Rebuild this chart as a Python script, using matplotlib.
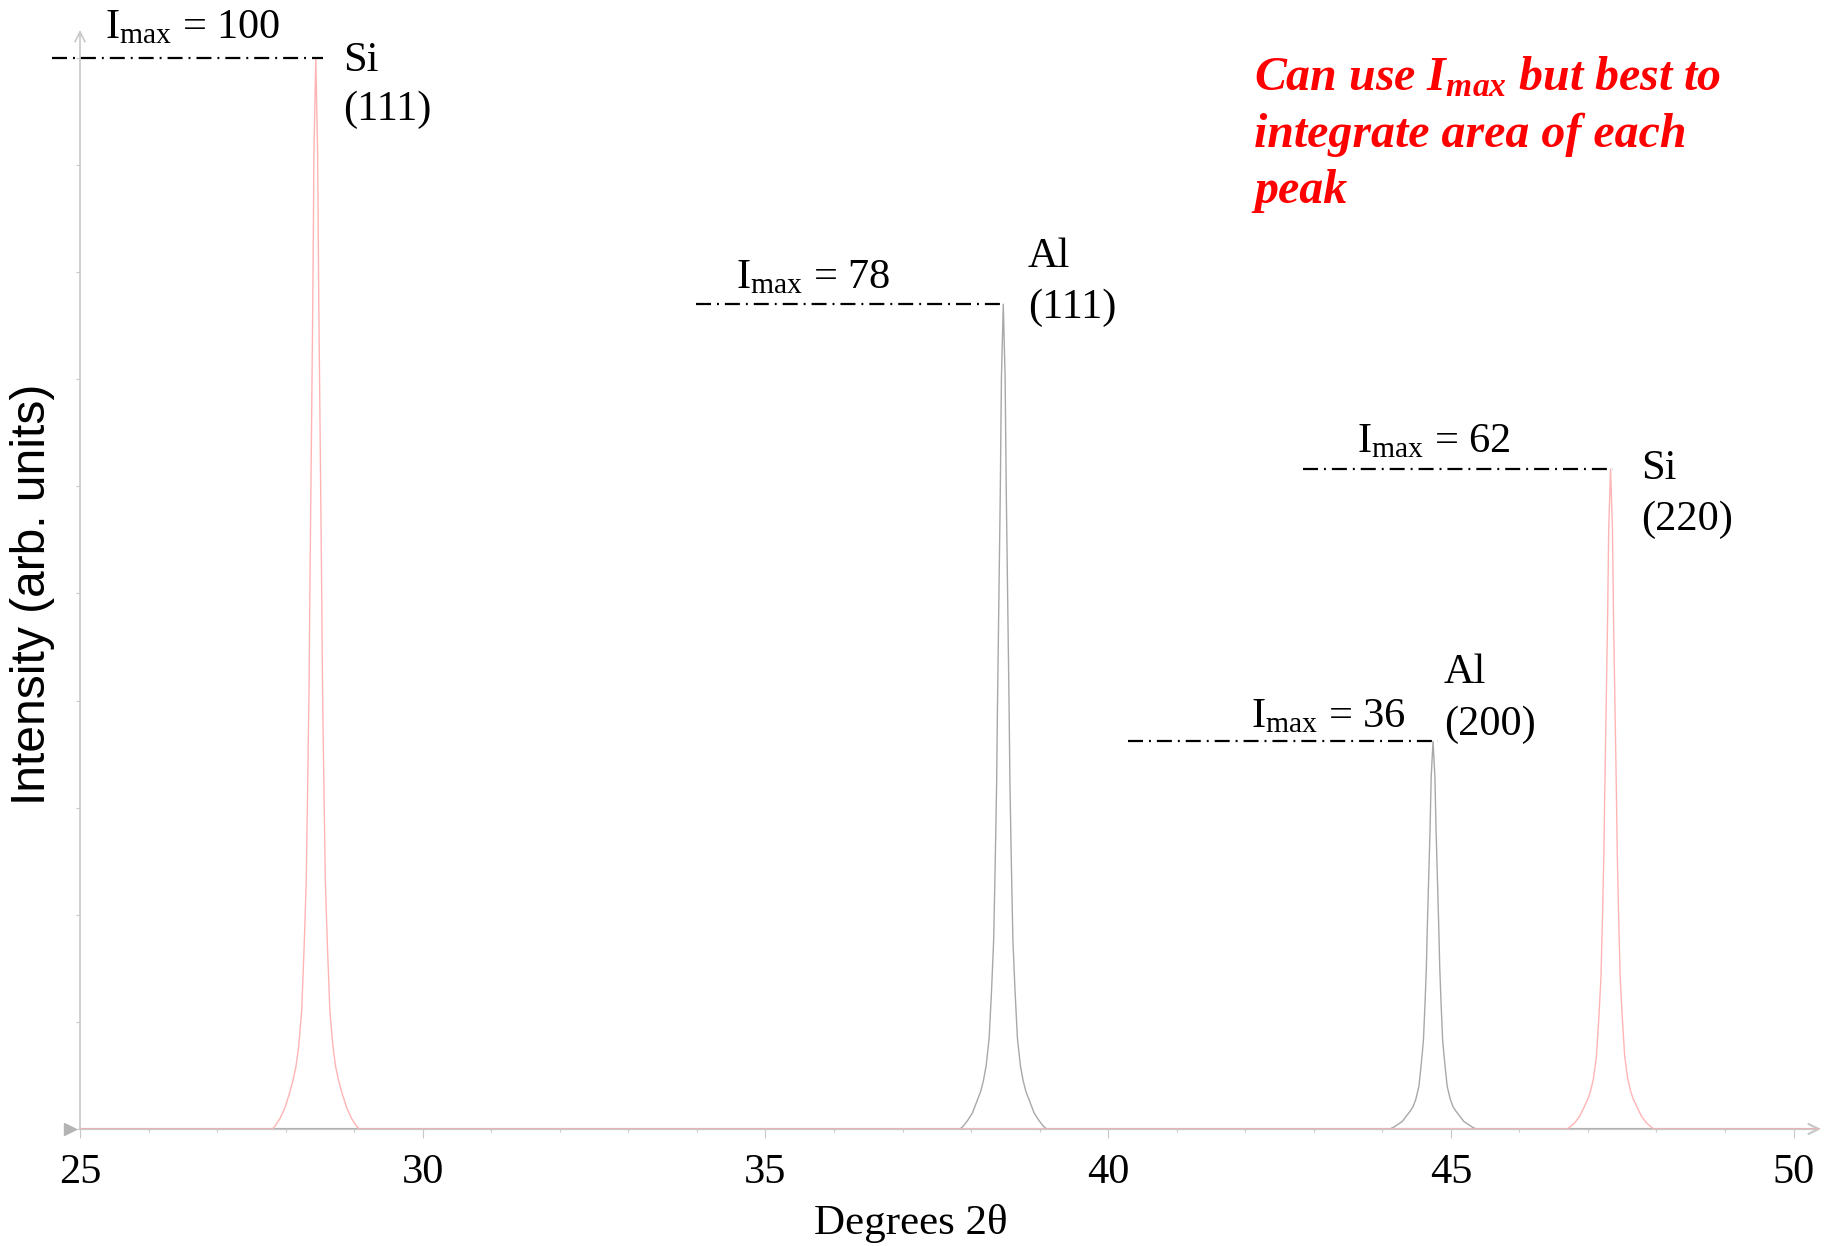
import matplotlib
matplotlib.use("Agg")
import matplotlib.pyplot as plt
import numpy as np

plt.rcParams.update({
    "font.family": "Liberation Serif",
    "mathtext.fontset": "custom",
    "mathtext.rm": "Liberation Serif",
    "mathtext.it": "Liberation Serif:italic",
    "mathtext.bf": "Liberation Serif:bold:italic",
    "lines.scale_dashes": False,
})

# --- data (degrees 2theta, intensity) ---
si111_x = [27.81, 27.86, 27.92, 27.99, 28.05, 28.11, 28.15, 28.19, 28.234, 28.27,
           28.30, 28.324, 28.343, 28.355, 28.396, 28.413, 28.44,
           28.467, 28.484, 28.525, 28.537, 28.556, 28.58, 28.61, 28.646, 28.69,
           28.73, 28.77, 28.83, 28.89, 28.96, 29.02, 29.07]
si111_y = [0, 0.4, 1, 2, 3.2, 4.6, 5.8, 7.7, 11, 17, 23, 33, 42, 51, 77, 91, 100,
           91, 77, 51, 42, 33, 23, 17, 11, 7.7, 5.8, 4.6, 3.2, 2, 1, 0.4, 0]

si220_x = [46.70, 46.75, 46.81, 46.88, 46.94, 47.00, 47.04, 47.08, 47.124, 47.16,
           47.19, 47.214, 47.233, 47.245, 47.286, 47.303, 47.33,
           47.357, 47.374, 47.415, 47.427, 47.446, 47.47, 47.50, 47.536, 47.58,
           47.62, 47.66, 47.72, 47.78, 47.85, 47.91, 47.96]
si220_y = [0, 0.25, 0.6, 1.2, 2.0, 2.8, 3.6, 4.7, 6.8, 10.5, 14.2, 20.3, 25.9, 31.4,
           47.4, 56.1, 61.6,
           56.1, 47.4, 31.4, 25.9, 20.3, 14.2, 10.5, 6.8, 4.7, 3.6, 2.8, 2.0, 1.2,
           0.6, 0.25, 0]

al111_x = [37.84, 37.89, 37.95, 38.02, 38.08, 38.14, 38.18, 38.22, 38.264, 38.30,
           38.33, 38.354, 38.373, 38.385, 38.426, 38.443, 38.47,
           38.497, 38.514, 38.555, 38.567, 38.586, 38.61, 38.64, 38.676, 38.72,
           38.76, 38.80, 38.86, 38.92, 38.99, 39.05, 39.10]
al111_y = [0, 0.3, 0.8, 1.5, 2.5, 3.5, 4.5, 5.9, 8.5, 13.1, 17.7, 25.4, 32.3, 39.3,
           59.3, 70.1, 77,
           70.1, 59.3, 39.3, 32.3, 25.4, 17.7, 13.1, 8.5, 5.9, 4.5, 3.5, 2.5, 1.5,
           0.8, 0.3, 0]

al200_x = [44.11, 44.16, 44.22, 44.29, 44.35, 44.41, 44.45, 44.49, 44.534, 44.57,
           44.60, 44.624, 44.643, 44.655, 44.696, 44.713, 44.74,
           44.767, 44.784, 44.825, 44.837, 44.856, 44.88, 44.91, 44.946, 44.99,
           45.03, 45.07, 45.13, 45.19, 45.26, 45.32, 45.37]
al200_y = [0, 0.15, 0.4, 0.7, 1.2, 1.7, 2.1, 2.8, 4.0, 6.2, 8.3, 11.9, 15.2, 18.5,
           27.9, 32.9, 36.2,
           32.9, 27.9, 18.5, 15.2, 11.9, 8.3, 6.2, 4.0, 2.8, 2.1, 1.7, 1.2, 0.7,
           0.4, 0.15, 0]

# dash-dot I_max guide lines: start, end (2theta), level
imax_text = ["100", "78", "62", "36"]
guide_x0 = [24.59, 33.99, 42.85, 40.29]
guide_x1 = [28.54, 38.48, 47.36, 44.81]
guide_y = [100, 77, 61.6, 36.2]

si_x = [25.0] + si111_x + si220_x + [50.37]
si_y = [0] + si111_y + si220_y + [0]
al_x = [25.0] + al111_x + al200_x + [50.37]
al_y = [0] + al111_y + al200_y + [0]

fig = plt.figure(figsize=(18.32, 12.46), dpi=100)
ax = fig.add_axes([80 / 1832, 1 - 1129 / 1246, 1741 / 1832, 1099 / 1246])
ax.set_xlim(25, 50.4)
ax.set_ylim(0, 102.6)

for s in ax.spines.values():
    s.set_visible(False)

axis_col = "#c8c8c8"
ax.annotate("", xy=(1.0, 0), xytext=(0, 0), xycoords="axes fraction",
            arrowprops=dict(arrowstyle="->", color=axis_col, lw=1.6,
                            mutation_scale=18, shrinkA=0, shrinkB=0))
ax.annotate("", xy=(0, 1.0), xytext=(0, 0), xycoords="axes fraction",
            arrowprops=dict(arrowstyle="->", color=axis_col, lw=1.2,
                            mutation_scale=18, shrinkA=0, shrinkB=0))
ax.plot([-0.0055], [0], marker=">", ms=8, color="#b4b4b4", mec="#b4b4b4",
        transform=ax.transAxes, clip_on=False)

ax.plot(al_x, al_y, color="#a8a8a8", lw=1.0, zorder=3)
ax.plot(si_x, si_y, color="#ffb4b4", lw=1.0, zorder=4)

for x0, x1, y in zip(guide_x0, guide_x1, guide_y):
    ax.plot([x0, x1], [y, y], color="black", lw=1.6, clip_on=False,
            dashes=(10.8, 4.3, 1.4, 4.3), zorder=5)

ax.set_xticks(np.arange(25, 51, 5))
ax.set_xticks(np.arange(25, 51, 1), minor=True)
ax.set_yticks(np.arange(0, 101, 10))
ax.set_yticklabels([])
ax.tick_params(axis="x", which="major", direction="out", length=6.5, width=0.8,
               color=axis_col, labelsize=30.5, pad=11)
ax.tick_params(axis="x", which="minor", direction="out", length=2.2, width=0.8,
               color=axis_col)
ax.tick_params(axis="y", direction="out", length=3, width=0.8, color=axis_col)

fs = 30.5
im = r"$\mathrm{I}_{\mathrm{max}}$ = "
ax.text(25.365, 101.87, im + imax_text[0], fontsize=fs, va="baseline")
ax.text(34.57, 78.5, im + imax_text[1], fontsize=fs, va="baseline")
ax.text(43.63, 63.2, im + imax_text[2], fontsize=fs, va="baseline")
ax.text(42.08, 37.5, im + imax_text[3], fontsize=fs, va="baseline")

ax.text(28.84, 98.8, "Si", fontsize=fs, va="baseline")
ax.text(28.84, 94.2, "(111)", fontsize=fs, va="baseline")
ax.text(38.83, 80.5, "Al", fontsize=fs, va="baseline")
ax.text(38.83, 75.7, "(111)", fontsize=fs, va="baseline")
ax.text(47.77, 60.7, "Si", fontsize=fs, va="baseline")
ax.text(47.77, 55.9, "(220)", fontsize=fs, va="baseline")
ax.text(44.90, 41.6, "Al", fontsize=fs, va="baseline")
ax.text(44.90, 36.8, "(200)", fontsize=fs, va="baseline")

red_lines = [r"Can use $\mathbf{I}_{\mathbf{max}}$ but best to",
             "integrate area of each", "peak"]
red_base = [90, 146.7, 203.3]
for line, b in zip(red_lines, red_base):
    fig.text(1254 / 1832, 1 - b / 1246, line, color="red", fontsize=34.5,
             fontweight="bold", style="italic", va="baseline")

fig.text(911 / 1832, 1 - 1234 / 1246, "Degrees 2\u03b8", fontsize=31,
         ha="center", va="baseline")
fig.text(33 / 1832, 1 - 594 / 1246, "Intensity (arb. units)", fontsize=34.5,
         family="Liberation Sans", rotation=90, ha="center", va="center")

fig.savefig("out.png", dpi=100)
